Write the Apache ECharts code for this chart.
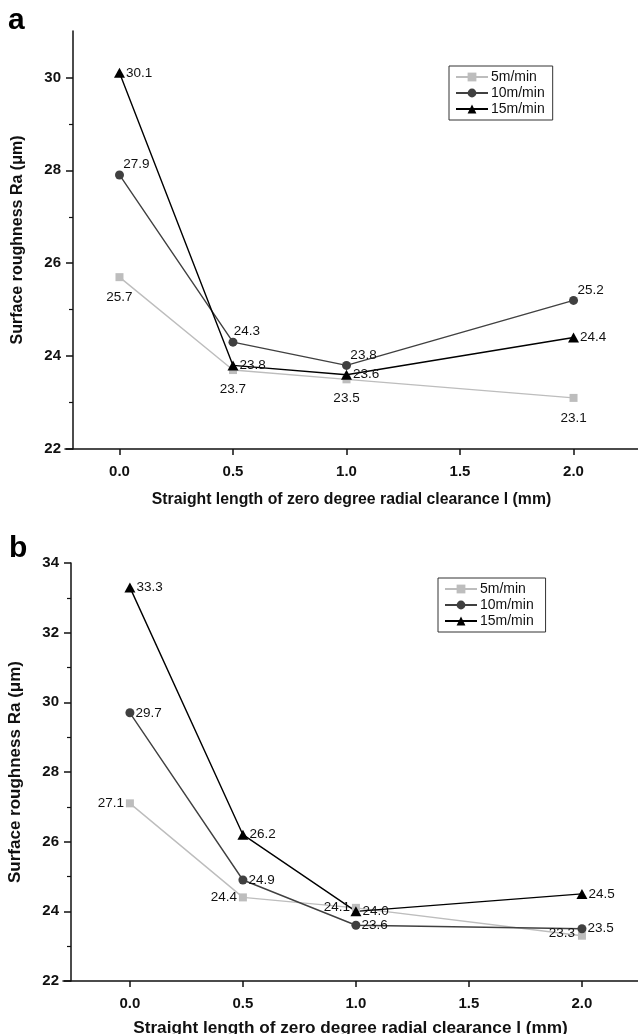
<!DOCTYPE html>
<html>
<head>
<meta charset="utf-8">
<script src="https://cdn.jsdelivr.net/npm/echarts@6/dist/echarts.min.js"></script>
<style>
  html, body { margin: 0; padding: 0; background: #fff; }
  #chart { width: 638px; height: 1034px; }
</style>
</head>
<body>
<div id="chart"></div>
<script>
// x positions (mm) shared by both panels
const xValues = [0, 0.5, 1.0, 2.0]
const xTicks = [0, 0.5, 1.0, 1.5, 2.0]
const seriesNames = ['5m/min', '10m/min', '15m/min']

// panel a
const a5 = [25.7, 23.7, 23.5, 23.1]
const a10 = [27.9, 24.3, 23.8, 25.2]
const a15 = [30.1, 23.8, 23.6, 24.4]
const aMajorTicks = [22, 24, 26, 28, 30]
const aMinorTicks = [23, 25, 27, 29]

// panel b
const b5 = [27.1, 24.4, 24.1, 23.3]
const b10 = [29.7, 24.9, 23.6, 23.5]
const b15 = [33.3, 26.2, 24.0, 24.5]
const bMajorTicks = [22, 24, 26, 28, 30, 32, 34]
const bMinorTicks = [23, 25, 27, 29, 31, 33]

const FONT = '"Liberation Sans", Arial, sans-serif'
const colors = ['#bdbdbd', '#404040', '#000000']
const symbols = ['rect', 'circle', 'triangle']
const symbolSizes = [8, 9, [11, 10]]

// label placement per point: [position, offset]
const labelPlaceA = [
  [['bottom', [0, 4]], ['bottom', [0, 3]], ['bottom', [0, 3]], ['bottom', [0, 4]]],
  [['top', [17, 6]], ['top', [14, 6]], ['top', [17, 6]], ['top', [17, 6]]],
  [['right', [-4, 0]], ['right', [-4, 0]], ['right', [-4, 0]], ['right', [-4, 0]]]
]
const labelPlaceB = [
  [['left', [3, 0]], ['left', [3, 0]], ['left', [3, -1]], ['left', [2, -2]]],
  [['right', [-4, 0]], ['right', [-4, 0]], ['right', [-4, 0]], ['right', [-4, 0]]],
  [['right', [-4, 0]], ['right', [-4, 0]], ['right', [-4, 0]], ['right', [-4, 0]]]
]

function makeSeries(name, vals, idx, gridIdx, places) {
  return {
    name: name,
    type: 'line',
    xAxisIndex: gridIdx,
    yAxisIndex: gridIdx * 2,
    data: vals.map((v, i) => ({
      value: [xValues[i], v],
      label: { position: places[i][0], offset: places[i][1] }
    })),
    symbol: symbols[idx],
    symbolSize: symbolSizes[idx],
    showAllSymbol: true,
    itemStyle: { color: colors[idx] },
    lineStyle: { color: colors[idx], width: 1.4 },
    label: {
      show: true,
      color: '#111',
      fontFamily: FONT,
      fontSize: 13.5,
      formatter: p => p.value[1].toFixed(1)
    },
    emphasis: { disabled: true },
    animation: false
  }
}

function xAxisFor(gridIdx, min, max, titleSize, titleGap) {
  return {
    type: 'value',
    gridIndex: gridIdx,
    min: min,
    max: max,
    name: 'Straight length of zero degree radial clearance l (mm)',
    nameLocation: 'middle',
    nameGap: titleGap,
    nameTextStyle: { fontFamily: FONT, fontSize: titleSize, fontWeight: 'bold', color: '#111' },
    splitLine: { show: false },
    axisLine: { onZero: false, lineStyle: { color: '#111', width: 1.5 } },
    axisTick: { customValues: xTicks, length: 6, lineStyle: { color: '#111', width: 1.5 } },
    axisLabel: {
      customValues: xTicks,
      margin: 15,
      fontFamily: FONT, fontSize: 15, fontWeight: 'bold', color: '#111',
      formatter: v => v.toFixed(1)
    }
  }
}

function yAxesFor(gridIdx, min, max, major, minor, titleSize) {
  return [{
    type: 'value',
    gridIndex: gridIdx,
    min: min,
    max: max,
    offset: -8,
    name: 'Surface roughness Ra (μm)',
    nameLocation: 'middle',
    nameGap: 47,
    nameTextStyle: { fontFamily: FONT, fontSize: titleSize, fontWeight: 'bold', color: '#111' },
    splitLine: { show: false },
    axisLine: { show: true, onZero: false, lineStyle: { color: '#111', width: 1.5 } },
    axisTick: { customValues: major, length: 7, lineStyle: { color: '#111', width: 1.5 } },
    axisLabel: {
      customValues: major,
      margin: 12,
      fontFamily: FONT, fontSize: 15, fontWeight: 'bold', color: '#111'
    }
  }, {
    type: 'value',
    gridIndex: gridIdx,
    min: min,
    max: max,
    offset: -8,
    position: 'left',
    splitLine: { show: false },
    axisLine: { show: false, onZero: false },
    axisTick: { customValues: minor, length: 4, lineStyle: { color: '#111', width: 1.2 } },
    axisLabel: { show: false }
  }]
}

function legendFor(gridIdx, left, top) {
  return {
    data: seriesNames.map(n => n + (gridIdx ? ' ' : '')),
    orient: 'vertical',
    left: left,
    top: top,
    itemWidth: 32,
    itemHeight: 11,
    itemGap: 2,
    padding: [4, 8, 4, 6],
    borderColor: '#333',
    borderWidth: 1,
    selectedMode: false,
    textStyle: { fontFamily: FONT, fontSize: 14, color: '#111', padding: [0, 0, 0, -2] }
  }
}

const chart = echarts.init(document.getElementById('chart'), null, { renderer: 'canvas' })

const seriesA = [a5, a10, a15].map((d, i) => makeSeries(seriesNames[i], d, i, 0, labelPlaceA[i]))
const seriesB = [b5, b10, b15].map((d, i) => makeSeries(seriesNames[i] + ' ', d, i, 1, labelPlaceB[i]))

chart.setOption({
  backgroundColor: '#fff',
  animation: false,
  graphic: [
    { type: 'text', left: 8, top: 6, style: { text: 'a', fontFamily: FONT, fontSize: 30, fontWeight: 'bold', fill: '#000' } },
    { type: 'text', left: 9, top: 534, style: { text: 'b', fontFamily: FONT, fontSize: 30, fontWeight: 'bold', fill: '#000' } }
  ],
  legend: [legendFor(0, 449, 66), legendFor(1, 438, 578)],
  grid: [
    { left: 65, right: 0, top: 31, height: 418, outerBoundsMode: 'none' },
    { left: 63, right: 0, top: 563, height: 418, outerBoundsMode: 'none' }
  ],
  xAxis: [xAxisFor(0, -0.24, 2.284, 15.8, 43), xAxisFor(1, -0.296, 2.248, 17.2, 39)],
  yAxis: yAxesFor(0, 22, 31, aMajorTicks, aMinorTicks, 16).concat(yAxesFor(1, 22, 34, bMajorTicks, bMinorTicks, 17)),
  series: seriesA.concat(seriesB)
})
</script>
</body>
</html>
